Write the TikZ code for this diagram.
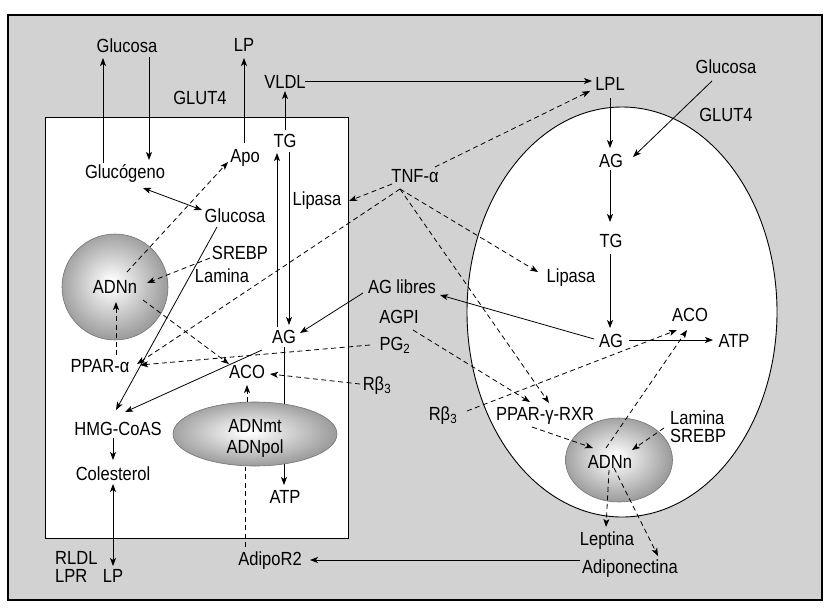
\documentclass[tikz,border=0pt]{standalone}
\usepackage{fontspec}
\setmainfont{Liberation Sans}[FakeStretch=0.87]
\usetikzlibrary{arrows.meta,shapes.geometric,calc}
\definecolor{bggray}{RGB}{210,210,210}
\pgfdeclareradialshading{nucshade}{\pgfpoint{-2bp}{2bp}}{color(0bp)=(white); color(3bp)=(white!97!black); color(25bp)=(black!38); color(50bp)=(black!38)}
\begin{document}
\begin{tikzpicture}[x=1pt,y=-1pt,
  every node/.style={inner sep=1pt, font=\fontsize{19}{22}\selectfont},
  t/.style={anchor=base},
  tw/.style={anchor=base west, inner sep=0pt},
  arr/.style={-{Stealth[length=8pt,width=6pt,inset=2pt]}, line width=0.8pt},
  darr/.style={arr, dash pattern=on 5pt off 3.5pt},
  dline/.style={line width=0.8pt, dash pattern=on 5pt off 3.5pt},
  barr/.style={{Stealth[length=8pt,width=6pt,inset=2pt]}-{Stealth[length=8pt,width=6pt,inset=2pt]}, line width=0.8pt},
  nucleus/.style={shading=nucshade, draw=black!55, line width=0.6pt}]
\useasboundingbox (0,0) rectangle (830,614);
\draw[fill=bggray, line width=1.2pt] (8,15) rectangle (822,600);
\draw[fill=white, line width=0.9pt] (45,117) rectangle (348,538);
\draw[fill=white, line width=0.9pt] (622,312) ellipse [x radius=155pt, y radius=205pt];

% text nodes
\node[t] (glcA) at (127,52) {Glucosa};
\node[t] (lpA) at (244,51) {LP};
\node[t] (vldl) at (285,88) {VLDL};
\node[t] (glut4a) at (200,104) {GLUT4};
\node[t] (tgA) at (285,147) {TG};
\node[t] (apo) at (245,162) {Apo};
\node[t] (glucogeno) at (125,178) {Glucógeno};
\node[t] (lipA) at (317,205) {Lipasa};
\node[t] (tnf) at (415,182) {TNF-α};
\node[t] (glcB) at (235,222) {Glucosa};
\node[t] (srebpA) at (240,259) {SREBP};
\node[t] (laminaA) at (222,282) {Lamina};
\node[t] (aglib) at (402,293) {AG libres};
\node[t] (agpi) at (399,323) {AGPI};
\node[t] (agA) at (284,343) {AG};
\node[t] (pg2) at (395,350) {PG\textsubscript{2}};
\node[t] (ppara) at (100,372) {PPAR-α};
\node[t] (acoA) at (247,378) {ACO};
\node[t] (rb3A) at (377,390) {Rβ\textsubscript{3}};
\node[t] (hmg) at (118,435) {HMG-CoAS};
\node[t] (coles) at (113,480) {Colesterol};
\node[t] (atpA) at (285,503) {ATP};
\node[tw] (rldl) at (55,564) {RLDL};
\node[tw] (lpr) at (55,582) {LPR};
\node[t] (lpB) at (113,582) {LP};
\node[t] (adipor2) at (270,565) {AdipoR2};
\node[t] (lpl) at (610,90) {LPL};
\node[t] (glcC) at (726,73) {Glucosa};
\node[t] (glut4b) at (726,121) {GLUT4};
\node[t] (agB) at (611,167) {AG};
\node[t] (tgB) at (611,247) {TG};
\node[t] (lipB) at (571,282) {Lipasa};
\node[t] (agC) at (611,347) {AG};
\node[t] (acoB) at (690,321) {ACO};
\node[t] (atpB) at (734,347) {ATP};
\node[t] (rb3B) at (443,420) {Rβ\textsubscript{3}};
\node[t] (pparg) at (545,420) {PPAR-γ-RXR};
\node[tw] (laminaB) at (670,424) {Lamina};
\node[tw] (srebpB) at (670,442) {SREBP};
\node[t] (leptina) at (607,545) {Leptina};
\node[t] (adipon) at (630,573) {Adiponectina};

% line hidden behind the mitochondrial ellipse
\draw[arr] ($(agA.base)+(0,4)$) -- ($(atpA.base)+(-1,-18)$);

% nuclei
\node[nucleus, circle, minimum size=106pt] (adnA) at (115,287) {ADNn};
\node[nucleus, ellipse, minimum width=164pt, minimum height=64pt, inner sep=0pt] (adnmt) at (255,434) {};
\node[t] (adnmtA) at (255,432) {ADNmt};
\node[t] (adnmtB) at (255,453) {ADNpol};
\node[nucleus, ellipse, minimum width=107pt, minimum height=84pt, inner sep=0pt] (adnB) at (619,460) {};
\node[t] (adnBt) at (610,468) {ADNn};

% solid connectors
\draw[arr] ($(glucogeno.base)+(-22,-15)$) -- ($(glcA.base)+(-24,6)$);
\draw[arr] ($(glcA.base)+(22,5)$) -- ($(glucogeno.base)+(24,-18)$);
\draw[arr] ($(apo.base)+(-1,-19)$) -- ($(lpA.base)+(0,7)$);
\draw[arr] ($(tgA.base)+(0,-17)$) -- ($(vldl.base)+(0,3)$);
\draw[arr] ($(vldl.base)+(20,-7)$) -- ($(lpl.base)+(-18,-9)$);
\draw[arr] ($(agA.base)+(-7,-16)$) -- ($(tgA.base)+(-8,6)$);
\draw[arr] ($(tgA.base)+(4,5)$) -- ($(agA.base)+(5,-18)$);
\draw[barr] ($(glucogeno.base)+(18,10)$) -- ($(glcB.base)+(-33,-12)$);
\draw[arr] ($(glcB.base)+(-18,5)$) -- ($(hmg.base)+(-2,-25)$);
\draw[arr] ($(agA.base)+(-22,7)$) -- ($(hmg.base)+(7,-23)$);
\draw[arr] ($(hmg.base)+(-5,3)$) -- ($(coles.base)+(0,-20)$);
\draw[barr] ($(coles.base)+(0,4)$) -- ($(lpB.base)+(0,-16)$);
\draw[arr] ($(aglib.base)+(-39,0)$) -- ($(agA.base)+(16,-10)$);
\draw[arr] ($(agC.base)+(-17,-8)$) -- ($(aglib.base)+(38,2)$);
\draw[arr] ($(lpl.base)+(0,8)$) -- ($(agB.base)+(-1,-19)$);
\draw[arr] ($(glcC.base)+(-14,8)$) -- ($(agB.base)+(22,-10)$);
\draw[arr] ($(agB.base)+(-1,3)$) -- ($(tgB.base)+(-1,-25)$);
\draw[arr] ($(tgB.base)+(-1,7)$) -- ($(agC.base)+(-1,-19)$);
\draw[arr] ($(agC.base)+(18,-7)$) -- ($(atpB.base)+(-21,-7)$);
\draw[arr] ($(adipon.base)+(-50,-13)$) -- ($(adipor2.base)+(40,-5)$);

% dashed connectors
\coordinate (tnfv) at ($(tnf.base)+(-15,7)$);
\draw[darr] ($(tnf.base)+(20,-15)$) -- ($(lpl.base)+(-20,1)$);
\draw[darr] ($(tnf.base)+(-23,2)$) -- ($(lipA.base)+(32,-4)$);
\draw[darr] (tnfv) -- ($(ppara.base)+(37,-8)$);
\draw[darr] (tnfv) -- ($(lipB.base)+(-33,-10)$);
\draw[darr] (tnfv) -- ($(pparg.base)+(4,-17)$);
\draw[darr] ($(adnA)+(12,-15)$) -- ($(apo.base)+(-17,0)$);
\draw[darr] ($(srebpA.base)+(-30,-1)$) -- ($(adnA)+(32,-4)$);
\draw[darr] ($(adnA)+(28,13)$) -- ($(acoA.base)+(-18,-14)$);
\draw[darr] ($(ppara.base)+(16,-17)$) -- ($(adnA)+(1,15)$);
\draw[darr] ($(pg2.base)+(-25,-5)$) -- ($(ppara.base)+(40,-7)$);
\draw[darr] ($(rb3A.base)+(-17,-6)$) -- ($(acoA.base)+(23,-4)$);
\draw[darr] ($(adnmt)+(-8,-32)$) -- ($(acoA.base)+(0,7)$);
\draw[dline] ($(adipor2.base)+(-25,-18)$) -- ($(adnmt)+(-10,33)$);
\draw[darr] ($(agpi.base)+(14,7)$) -- ($(pparg.base)+(-15,-18)$);
\draw[darr] ($(rb3B.base)+(24,-9)$) -- ($(acoB.base)+(-13,9)$);
\draw[darr] ($(adnB)+(-13,-12)$) -- ($(acoB.base)+(-3,9)$);
\draw[darr] ($(pparg.base)+(-13,7)$) -- ($(adnB)+(-26,-12)$);
\draw[darr] ($(laminaB.base west)+(-6,4)$) -- ($(adnB)+(13,-10)$);
\draw[darr] ($(adnB)+(-10,10)$) -- ($(leptina.base)+(-1,-18)$);
\draw[darr] ($(adnB)+(-5,8)$) -- ($(adipon.base)+(28,-17)$);
\end{tikzpicture}
\end{document}
